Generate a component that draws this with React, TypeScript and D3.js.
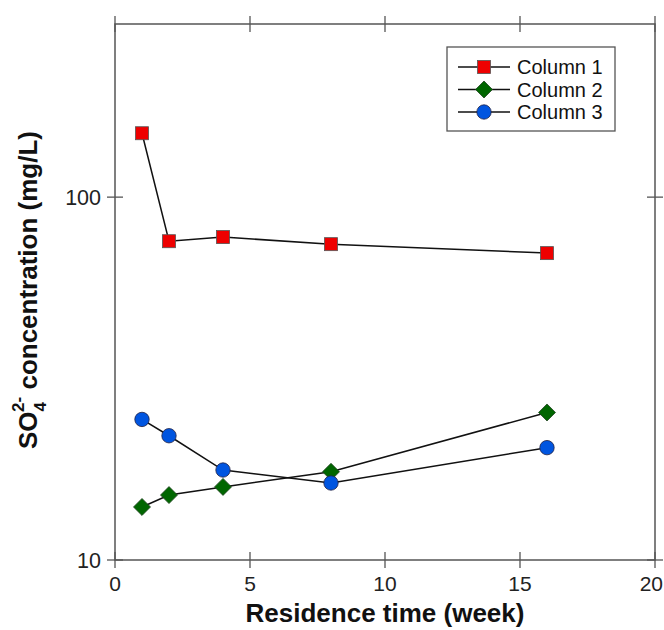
import React from "react";
import * as d3 from "d3";

const weeks = [1, 2, 4, 8, 16];
const column1 = [150, 75.6, 77.6, 74.2, 70.1];
const column2 = [14.0, 15.1, 15.9, 17.5, 25.5];
const column3 = [24.4, 22.0, 17.7, 16.3, 20.4];
const xTicks = [0, 5, 10, 15, 20];
const yTicks = [10, 100];
const seriesNames = ["Column 1", "Column 2", "Column 3"];

const L = 115, R = 655, T = 24, B = 560;
const AX = "#555";

export default function App() {
  const x = d3.scaleLinear().domain([0, 20]).range([L, R]);
  const y = d3.scaleLog().domain([10, 300]).range([B, T]);
  const line = d3.line<[number, number]>().x(d => x(d[0])).y(d => y(d[1]));
  const series = [column1, column2, column3];
  const font = "Arial, 'Liberation Sans', sans-serif";

  const marker = (i: number, cx: number, cy: number, key: string) => {
    if (i === 0) return <rect key={key} x={cx - 6.5} y={cy - 6.5} width={13} height={13} fill="#ee0000" stroke="#555" strokeWidth={0.8} />;
    if (i === 1) {
      const s = 8.5;
      return <path key={key} d={`M${cx},${cy - s}L${cx + s},${cy}L${cx},${cy + s}L${cx - s},${cy}Z`} fill="#006600" stroke="#224422" strokeWidth={0.8} />;
    }
    return <circle key={key} cx={cx} cy={cy} r={7.2} fill="#0055e0" stroke="#224" strokeWidth={0.8} />;
  };

  return (
    <svg width={664} height={630} style={{ display: "block", position: "absolute", left: 0, top: 0 }} fontFamily={font}>
      <rect x={0} y={0} width={664} height={630} fill="#fff" />
      {/* frame */}
      <rect x={L} y={T} width={R - L} height={B - T} fill="none" stroke={AX} strokeWidth={1.5} />
      {xTicks.map((t, i) => {
        const last = i === xTicks.length - 1;
        return (
          <g key={"xt" + t}>
            <line x1={x(t)} x2={x(t)} y1={B - 8} y2={B + 8} stroke={AX} strokeWidth={1.3} />
            <line x1={x(t)} x2={x(t)} y1={T - 8} y2={T + 8} stroke={AX} strokeWidth={1.3} />
            <text x={last ? 663 : x(t)} y={B + 31} textAnchor={last ? "end" : "middle"} fontSize={21} fill="#222">{t}</text>
          </g>
        );
      })}
      {yTicks.map(t => (
        <g key={"yt" + t}>
          <line x1={L - 8} x2={L + 8} y1={y(t)} y2={y(t)} stroke={AX} strokeWidth={1.3} />
          <line x1={R - 8} x2={R + 8} y1={y(t)} y2={y(t)} stroke={AX} strokeWidth={1.3} />
          <text x={L - 14} y={y(t) + 7.5} textAnchor="end" fontSize={21.5} fill="#222">{t}</text>
        </g>
      ))}
      {/* lines */}
      {series.map((s, i) => (
        <path key={"l" + i} d={line(weeks.map((w, j) => [w, s[j]] as [number, number])) || ""} fill="none" stroke="#111" strokeWidth={1.5} />
      ))}
      {series.map((s, i) => weeks.map((w, j) => marker(i, x(w), y(s[j]), `m${i}-${j}`)))}
      {/* legend */}
      <rect x={447} y={47} width={168} height={84} fill="#fff" stroke={AX} strokeWidth={1.3} />
      {seriesNames.map((n, i) => {
        const ly = 67 + i * 22.5;
        return (
          <g key={"lg" + i}>
            <line x1={458} x2={510} y1={ly} y2={ly} stroke="#111" strokeWidth={1.3} />
            {marker(i, 484, ly, "lm" + i)}
            <text x={517} y={ly + 7} fontSize={20} fill="#111">{n}</text>
          </g>
        );
      })}
      {/* axis titles */}
      <text x={385} y={622} textAnchor="middle" fontSize={26} fontWeight="bold" fill="#111">Residence time (week)</text>
      <text transform="translate(37,290) rotate(-90)" textAnchor="middle" fontSize={26} fontWeight="bold" fill="#111">
        SO<tspan fontSize={17} dy={9}>4</tspan><tspan fontSize={17} dy={-22} dx={-10}>2-</tspan><tspan dy={13}> concentration (mg/L)</tspan>
      </text>
    </svg>
  );
}
